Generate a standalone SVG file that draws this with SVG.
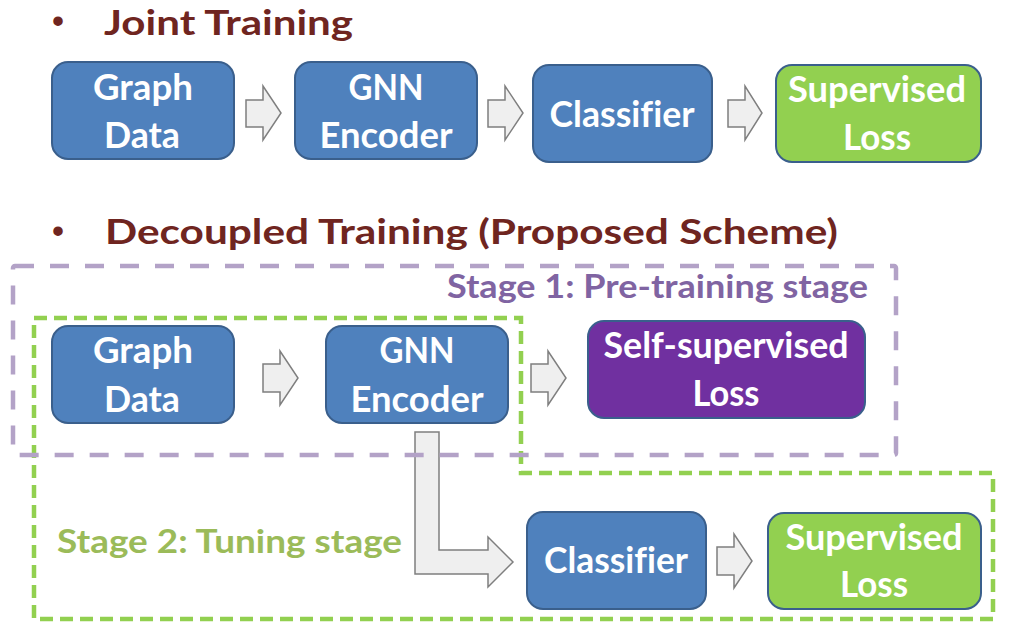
<svg xmlns="http://www.w3.org/2000/svg" width="1033" height="637" viewBox="0 0 1033 637">
<style>
.bg{fill:#ffffff}
text{font-variant-ligatures:none}
.node{stroke:#3A5F8C;stroke-width:2}
.blue{fill:#4F81BD}
.green{fill:#92D050}
.purple{fill:#7030A0}
.nt{font-family:Lato,"Liberation Sans",sans-serif;font-weight:700;font-size:36px;fill:#ffffff;text-anchor:middle}
.head{font-family:Lato,"Liberation Sans",sans-serif;font-weight:700;font-size:35px;fill:#6F2520}
.bul{font-family:"Liberation Sans",sans-serif;font-weight:700;font-size:33px;fill:#6F2520;text-anchor:middle}
.arr{fill:#EFEFEF;stroke:#7F7F7F;stroke-width:1.5;stroke-linejoin:miter}
.s1{font-family:Lato,"Liberation Sans",sans-serif;font-weight:700;font-size:33px;fill:#8064A2}
.s2{font-family:Lato,"Liberation Sans",sans-serif;font-weight:700;font-size:33px;fill:#9BBB59}
.pbox{fill:none;stroke:#B3A2C7;stroke-width:4.5;stroke-dasharray:19 16}
.gbox{fill:none;stroke:#92D050;stroke-width:4.5;stroke-dasharray:13 7}
</style>
<rect class="bg" x="0" y="0" width="1033" height="637"/>

<g id="heading-joint">
<text class="bul" x="58" y="32">•</text>
<text class="head" x="104" y="35" textLength="249" lengthAdjust="spacingAndGlyphs">Joint Training</text>
</g>
<g id="heading-decoupled">
<text class="bul" x="58" y="242">•</text>
<text class="head" x="105" y="244" textLength="733" lengthAdjust="spacingAndGlyphs">Decoupled Training (Proposed Scheme)</text>
</g>

<g id="stage2-box">
<path class="gbox" d="M34,318 H521 V473 H993 V619 H34 Z"/>
<text class="s2" x="57" y="553" textLength="345" lengthAdjust="spacingAndGlyphs">Stage 2: Tuning stage</text>
</g>

<g id="connectors">
<polygon class="arr" points="246,100 263,100 263,86 281,113 263,140 263,127 246,127"/>
<polygon class="arr" points="488,100 505,100 505,86 523,113 505,140 505,127 488,127"/>
<polygon class="arr" points="728,100 745,100 745,86 762,113 745,140 745,127 728,127"/>
<polygon class="arr" points="263,364 280,364 280,351 298,378 280,405 280,392 263,392"/>
<polygon class="arr" points="531,364 548,364 548,351 566,378 548,405 548,392 531,392"/>
<polygon class="arr" points="717,547 734,547 734,534 752,561 734,588 734,575 717,575"/>
<polygon class="arr" points="415,432 439,432 439,550 488,550 488,537 513,562 488,587 488,574 415,574"/>
</g>

<g id="joint-graph-data">
<rect class="node blue" x="52" y="62" width="182" height="97" rx="16"/>
<text class="nt" x="143" y="100" textLength="100" lengthAdjust="spacingAndGlyphs">Graph</text>
<text class="nt" x="142" y="148" textLength="76" lengthAdjust="spacingAndGlyphs">Data</text>
</g>
<g id="joint-gnn-encoder">
<rect class="node blue" x="295" y="62" width="182" height="97" rx="16"/>
<text class="nt" x="386" y="100" textLength="75" lengthAdjust="spacingAndGlyphs">GNN</text>
<text class="nt" x="386" y="148" textLength="133" lengthAdjust="spacingAndGlyphs">Encoder</text>
</g>
<g id="joint-classifier">
<rect class="node blue" x="533" y="65" width="179" height="97" rx="16"/>
<text class="nt" x="622" y="127" textLength="145" lengthAdjust="spacingAndGlyphs">Classifier</text>
</g>
<g id="joint-supervised-loss">
<rect class="node green" x="776" y="65" width="205" height="97" rx="16"/>
<text class="nt" x="877" y="102" textLength="178" lengthAdjust="spacingAndGlyphs">Supervised</text>
<text class="nt" x="877" y="150" textLength="68" lengthAdjust="spacingAndGlyphs">Loss</text>
</g>

<g id="dec-graph-data">
<rect class="node blue" x="52" y="326" width="182" height="97" rx="16"/>
<text class="nt" x="143" y="363" textLength="100" lengthAdjust="spacingAndGlyphs">Graph</text>
<text class="nt" x="142" y="412" textLength="76" lengthAdjust="spacingAndGlyphs">Data</text>
</g>
<g id="dec-gnn-encoder">
<rect class="node blue" x="326" y="326" width="182" height="97" rx="16"/>
<text class="nt" x="417" y="363" textLength="75" lengthAdjust="spacingAndGlyphs">GNN</text>
<text class="nt" x="417" y="412" textLength="133" lengthAdjust="spacingAndGlyphs">Encoder</text>
</g>
<g id="dec-self-supervised-loss">
<rect class="node purple" x="588" y="321" width="277" height="97" rx="16"/>
<text class="nt" x="726" y="358" textLength="245" lengthAdjust="spacingAndGlyphs">Self-supervised</text>
<text class="nt" x="726" y="406" textLength="67" lengthAdjust="spacingAndGlyphs">Loss</text>
</g>
<g id="dec-classifier">
<rect class="node blue" x="527" y="512" width="179" height="97" rx="16"/>
<text class="nt" x="616" y="573" textLength="144" lengthAdjust="spacingAndGlyphs">Classifier</text>
</g>
<g id="dec-supervised-loss">
<rect class="node green" x="768" y="513" width="213" height="96" rx="16"/>
<text class="nt" x="874" y="550" textLength="177" lengthAdjust="spacingAndGlyphs">Supervised</text>
<text class="nt" x="874" y="597" textLength="68" lengthAdjust="spacingAndGlyphs">Loss</text>
</g>

<g id="stage1-box">
<rect class="pbox" x="13" y="266" width="883" height="189" rx="2"/>
<text class="s1" x="447" y="298" textLength="421" lengthAdjust="spacingAndGlyphs">Stage 1: Pre-training stage</text>
</g>
</svg>
